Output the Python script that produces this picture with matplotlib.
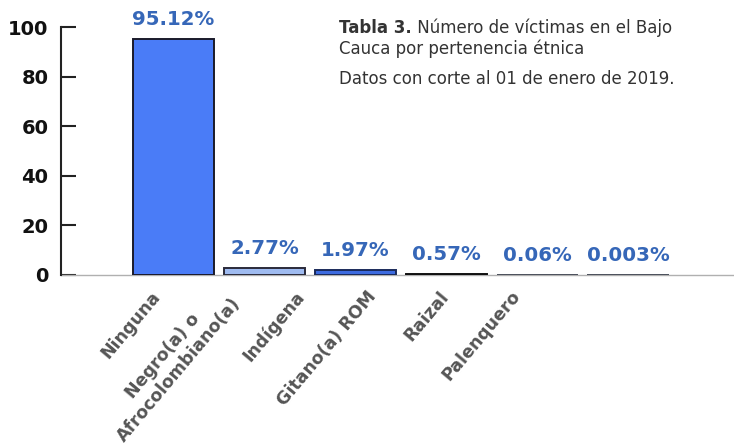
import matplotlib
matplotlib.use("Agg")
import matplotlib.pyplot as plt

categories = ["Ninguna", "Negro(a) o\nAfrocolombiano(a)", "Indígena", "Gitano(a) ROM", "Raizal", "Palenquero"]
values = [95.12, 2.77, 1.97, 0.57, 0.06, 0.003]
value_labels = ["95.12%", "2.77%", "1.97%", "0.57%", "0.06%", "0.003%"]
yticks = [0, 20, 40, 60, 80, 100]

bar_colors = ["#4a7cf7", "#9fbbf0", "#3d6be0", "#222222", "#5a5f6a", "#5a5f6a"]
edge_colors = ["#1a1a2a", "#2a2a3a", "#1a2a5a", "#111111", "#4a4f5a", "#4a4f5a"]
label_color = "#3667b8"

fig = plt.figure(figsize=(7.34, 4.45), dpi=100)
ax = fig.add_axes([61/734, 170/445, 1 - 61/734, 248/445])

x = list(range(len(values)))
ax.bar(x, values, width=0.9, color=bar_colors, edgecolor=edge_colors, linewidth=1.4, zorder=3)

for xi, v, lab in zip(x, values, value_labels):
    ax.annotate(lab, xy=(xi, v), xytext=(0, 7), textcoords="offset points",
                ha="center", va="bottom", fontsize=14.2, fontweight="bold", color=label_color)

ax.set_xlim(-1.236, 6.16)
ax.set_ylim(0, 100)
ax.set_yticks(yticks)
ax.set_yticklabels([str(t) for t in yticks], fontsize=14, fontweight="bold", color="#111111")
ax.tick_params(axis="y", direction="in", length=11, width=1.5, pad=9, color="#222222")
ax.set_xticks([])

for s in ["top", "right"]:
    ax.spines[s].set_visible(False)
ax.spines["left"].set_color("#222222")
ax.spines["left"].set_linewidth(1.5)
ax.spines["bottom"].set_color("#b0b0b0")
ax.spines["bottom"].set_linewidth(1.0)
ax.spines["bottom"].set_zorder(2)

# category labels (rotated)
for i, lab in enumerate(categories):
    ax.annotate(lab, xy=(i, 0), xytext=(-16 - 19 * i, -18), textcoords="offset pixels",
                rotation=50, rotation_mode="anchor", ha="right", va="center",
                fontsize=12.5, fontweight="bold", color="#555555", multialignment="center")

# title block
t1 = fig.text(339/734, 1 - 19/445, "Tabla 3.", fontsize=12, fontweight="bold",
              color="#333333", ha="left", va="top")
fig.canvas.draw()
ax.annotate(" Número de víctimas en el Bajo", xy=(1, 0), xycoords=t1, ha="left", va="bottom",
            fontsize=12, color="#333333", annotation_clip=False)
fig.text(339/734, 1 - 39/445, "Cauca por pertenencia étnica", fontsize=12,
         color="#333333", ha="left", va="top")
fig.text(339/734, 1 - 70/445, "Datos con corte al 01 de enero de 2019.", fontsize=12,
         color="#333333", ha="left", va="top")

fig.savefig("out.png", dpi=100)
